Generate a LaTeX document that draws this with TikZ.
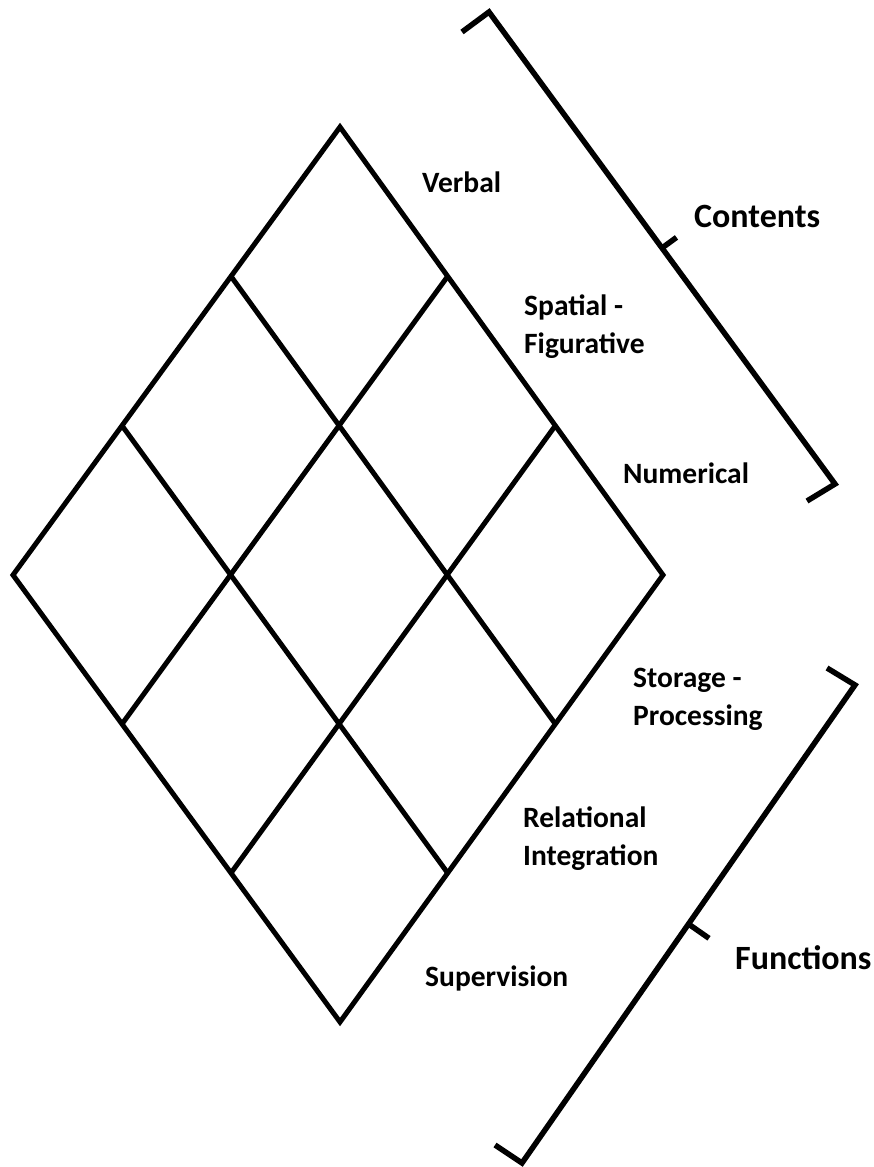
\documentclass[tikz,border=0pt]{standalone}
\usepackage{fontspec}
\setmainfont{Carlito}
\usetikzlibrary{calc}
\begin{document}
\begin{tikzpicture}[x=1pt,y=-1pt,line join=miter,
  gridline/.style={line width=5pt},
  brk/.style={line width=5.5pt},
  lab/.style={font=\bfseries\fontsize{29.5}{38}\selectfont,anchor=base west,inner sep=0pt,align=left},
  biglab/.style={font=\bfseries\fontsize{34}{40}\selectfont,anchor=base west,inner sep=0pt}]
\useasboundingbox (0,0) rectangle (874,1167);
% diamond corners
\coordinate (T) at (340,127);
\coordinate (R) at (663,575);
\coordinate (B) at (340,1022);
\coordinate (L) at (13,575);
\draw[gridline] (T) -- (R) -- (B) -- (L) -- cycle;
\foreach \k in {1,2}{
  \draw[gridline] ($(T)!\k/3!(R)$) -- ($(L)!\k/3!(B)$);
  \draw[gridline] ($(T)!\k/3!(L)$) -- ($(R)!\k/3!(B)$);
}
% Contents bracket
\coordinate (c0) at (462,32);
\coordinate (c1) at (489,12);
\coordinate (c2) at (835,484);
\coordinate (c3) at (807,501);
\coordinate (cm) at ($(c1)!0.5!(c2)$);
\coordinate (ct) at ($(cm)+(14.5,-10.6)$);
\draw[brk] (c0) -- (c1) -- (c2) -- (c3);
\draw[brk] (cm) -- (ct);
% Functions bracket
\coordinate (f0) at (827,668);
\coordinate (f1) at (855,685);
\coordinate (f2) at (522,1163);
\coordinate (f3) at (495,1145);
\coordinate (fm) at ($(f1)!0.5!(f2)$);
\coordinate (ft) at ($(fm)+(20.5,14.3)$);
\draw[brk] (f0) -- (f1) -- (f2) -- (f3);
\draw[brk] (fm) -- (ft);
% labels (anchor = baseline of last line)
\node[lab] (verbal) at (422,192) {Verbal};
\node[lab] (spatial) at (524,353) {Spatial -\\Figurative};
\node[lab] (numerical) at (623,483) {Numerical};
\node[lab] (storage) at (633,725) {Storage -\\Processing};
\node[lab] (relational) at (523,865) {Relational\\Integration};
\node[lab] (supervision) at (425,986) {Supervision};
\node[biglab] (contents) at (694,227) {Contents};
\node[biglab] (functions) at (735,969) {Functions};
\end{tikzpicture}
\end{document}
